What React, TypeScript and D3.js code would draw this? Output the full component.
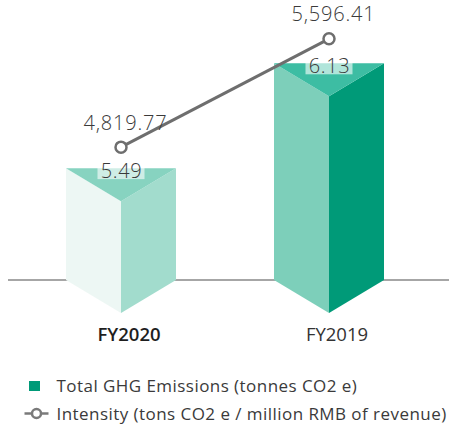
import React from "react";
import * as d3 from "d3";

const categories = ["FY2020", "FY2019"];
const barValues = [5.49, 6.13];
const lineValues = [4819.77, 5596.41];
const barLabels = ["5.49", "6.13"];
const lineLabels = ["4,819.77", "5,596.41"];
const legendItems = ["Total GHG Emissions (tonnes CO2 e)", "Intensity (tons CO2 e / million RMB of revenue)"];

const barColors = [
  { left: "#edf7f4", right: "#a2dccd", top: "#87d3c0" },
  { left: "#7dcfba", right: "#009a78", top: "#3dbda3" },
];

const W = 449;
const H = 425;
const FONT = "'Open Sans', Lato, sans-serif";

export default function App() {
  const x = d3.scaleBand<string>().domain(categories).range([17, 433]).paddingInner(0);
  const yBar = d3.scaleLinear().domain([4.807, 6.13]).range([280, 63.3]);
  const yLine = d3.scaleLinear().domain([4000, 6000]).range([261.5, -17.5]);
  const baseY = yBar(4.807);
  const half = 55;
  const depth = 33;

  const cx = (c: string) => (x(c) as number) + x.bandwidth() / 2;
  const pts: [number, number][] = categories.map((c, i) => [cx(c), yLine(lineValues[i])]);
  const line = d3.line()(pts) as string;
  const poly = (p: [number, number][]) => p.map((q) => q.join(",")).join(" ");

  return (
    <svg width={W} height={H} style={{ position: "absolute", left: 0, top: 0 }} fontFamily={FONT}>
      <line x1={8} x2={449} y1={baseY} y2={baseY} stroke="#a6a6a6" strokeWidth={2} />
      {categories.map((c, i) => {
        const m = cx(c);
        const t = yBar(barValues[i]);
        const col = barColors[i];
        return (
          <g key={c}>
            <polygon points={poly([[m - half, t], [m, t + depth], [m, baseY + depth], [m - half, baseY]])} fill={col.left} />
            <polygon points={poly([[m, t + depth], [m + half, t], [m + half, baseY], [m, baseY + depth]])} fill={col.right} />
            <polygon points={poly([[m - half, t], [m + half, t], [m, t + depth]])} fill={col.top} />
          </g>
        );
      })}
      <path d={line} fill="none" stroke="#6e6e6e" strokeWidth={3} />
      {pts.map((p, i) => (
        <circle key={i} cx={p[0]} cy={p[1]} r={5.5} fill="#fff" stroke="#6e6e6e" strokeWidth={2.5} />
      ))}
      {categories.map((c, i) => {
        const m = cx(c);
        const b = yBar(barValues[i]) + 9.5;
        return (
          <g key={"bl" + c}>
            <rect x={m - 23.5} y={b - 16.5} width={47} height={18} fill="#fff" fillOpacity={0.6} />
            <text x={m + 0.5} y={b} textAnchor="middle" fontSize={20} letterSpacing={0.6} fill="#3a3a3a" fontWeight={300}>
              {barLabels[i]}
            </text>
          </g>
        );
      })}
      {pts.map((p, i) => (
        <text key={"ll" + i} x={p[0] + 4.5} y={p[1] - 17.5} textAnchor="middle" fontSize={20} letterSpacing={0.8} fill="#3a3a3a" fontWeight={300}>
          {lineLabels[i]}
        </text>
      ))}
      {categories.map((c, i) => (
        <text key={"cat" + c} x={cx(c) + 8} y={340.5} textAnchor="middle" fontSize={18.5}
          fill={i === 0 ? "#1e1e1e" : "#333"} fontWeight={i === 0 ? 600 : 400}>
          {c}
        </text>
      ))}
      <g>
        <rect x={29} y={381} width={11} height={10} fill="#009a78" />
        <text x={56.5} y={391.5} fontSize={17} letterSpacing={0.45} fill="#3a3a3a">{legendItems[0]}</text>
        <line x1={24.5} x2={48.5} y1={413.5} y2={413.5} stroke="#7a7a7a" strokeWidth={2.5} />
        <circle cx={36.5} cy={413.5} r={4.5} fill="#fff" stroke="#7a7a7a" strokeWidth={2.5} />
        <text x={56.5} y={419.5} fontSize={17} letterSpacing={0.45} fill="#3a3a3a">{legendItems[1]}</text>
      </g>
    </svg>
  );
}
